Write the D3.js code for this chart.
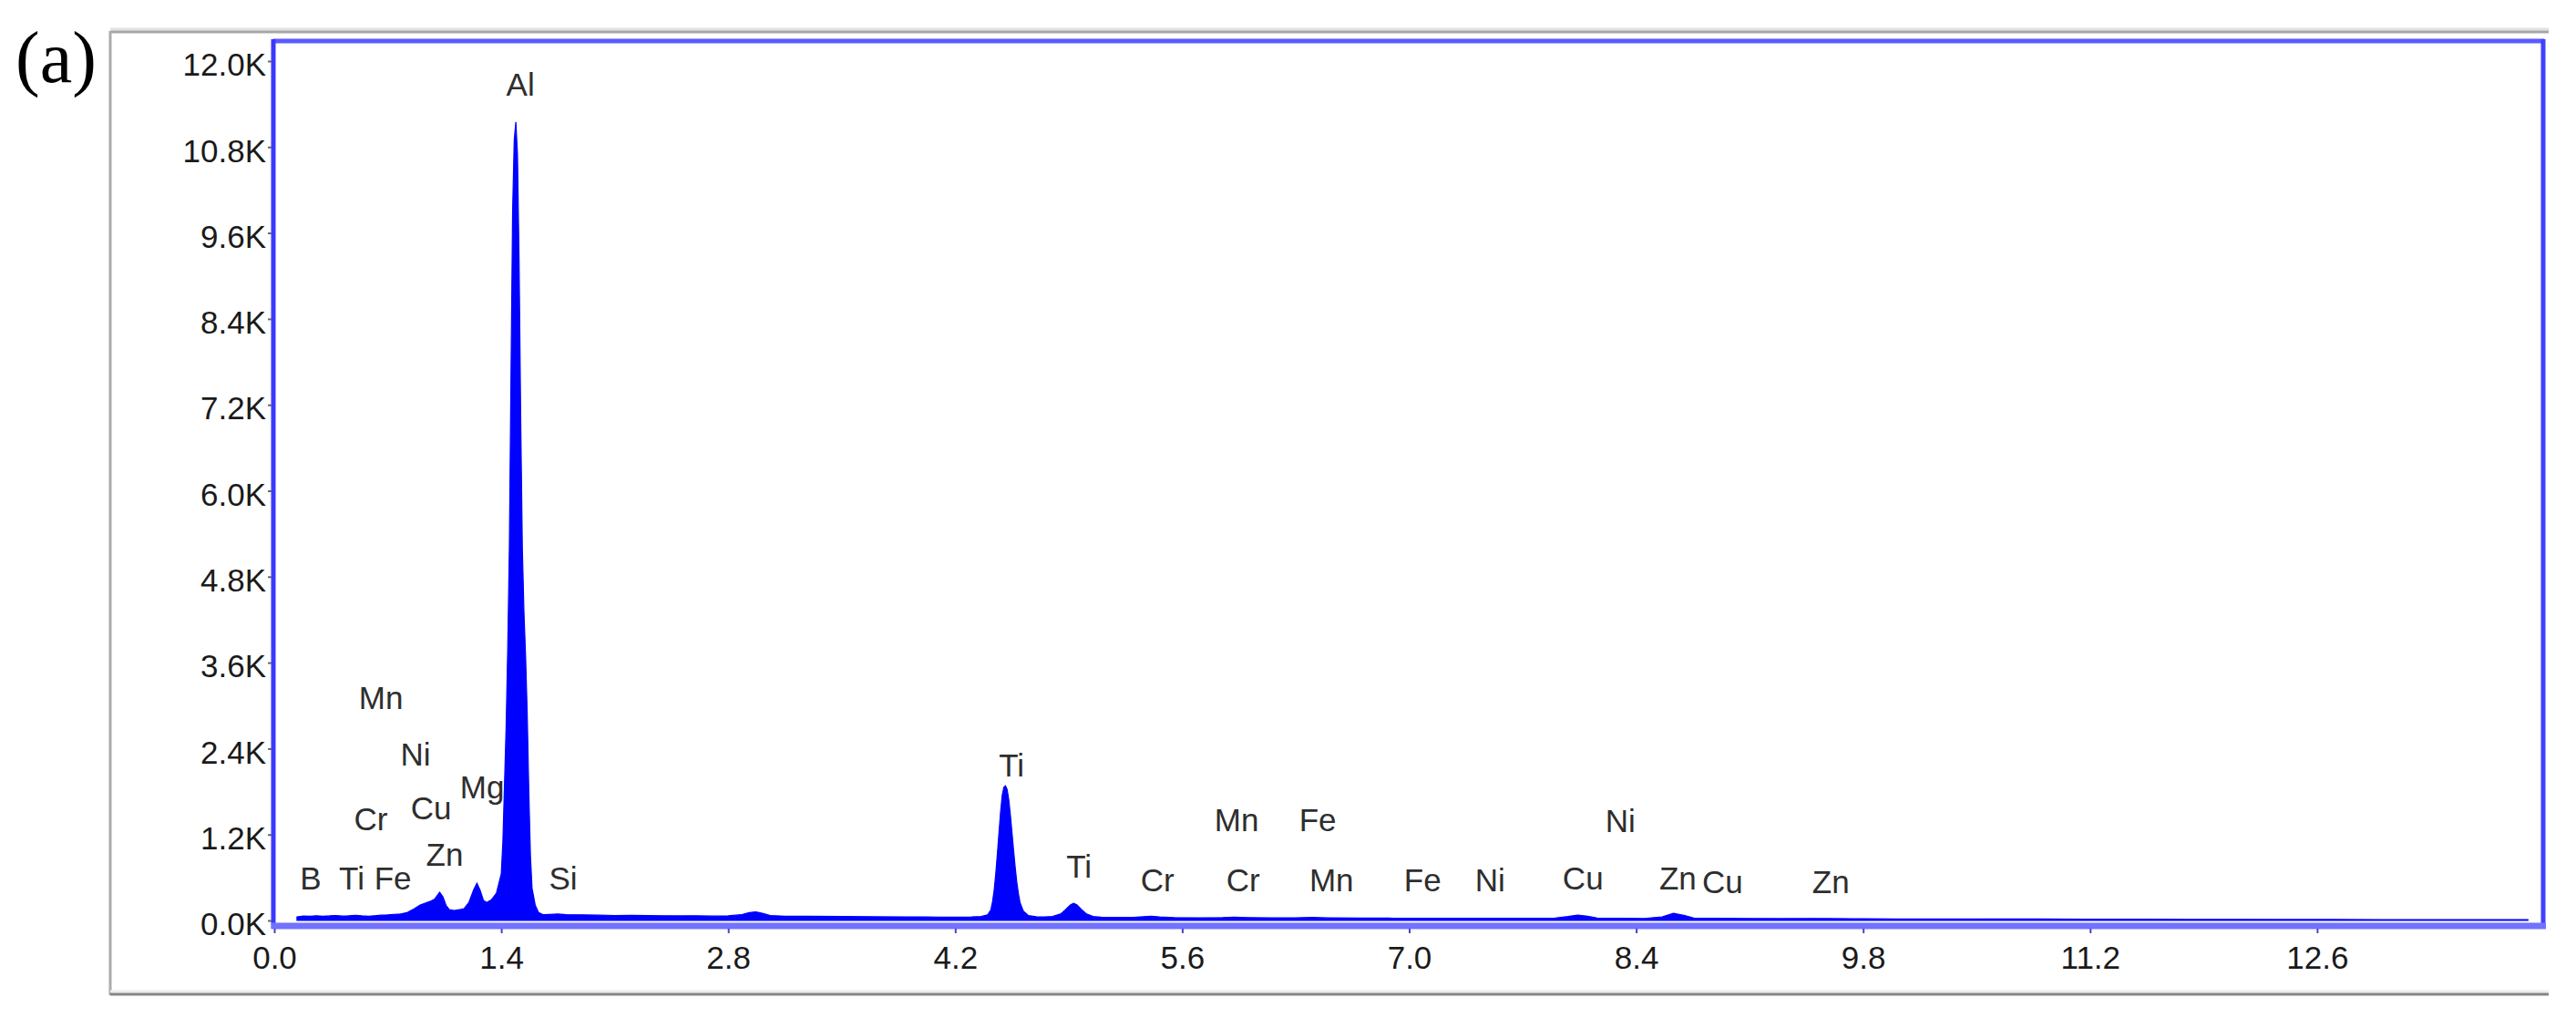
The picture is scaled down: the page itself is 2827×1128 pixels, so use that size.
<!DOCTYPE html>
<html>
<head>
<meta charset="utf-8">
<script src="https://d3js.org/d3.v7.min.js"></script>
<style>
  html, body { margin: 0; padding: 0; background: #fff; }
  svg { display: block; }
</style>
</head>
<body>
<svg id="chart" width="2827" height="1128"></svg>
<script>
// ---------------- data ----------------
// EDS spectrum: energy (keV) and counts
const energyKeV = [
  0.14, 0.18, 0.22, 0.26, 0.30, 0.34, 0.38, 0.42, 0.46, 0.50, 0.54, 0.58, 0.62, 0.66, 0.70, 0.74, 0.78, 0.82, 0.86, 0.90,
  0.93, 0.96, 0.99, 1.02, 1.04, 1.06, 1.08, 1.11, 1.14, 1.17, 1.20, 1.23, 1.25, 1.27, 1.29, 1.31, 1.34, 1.37, 1.39,
  1.40, 1.41, 1.42, 1.43, 1.44, 1.45, 1.46, 1.47, 1.48, 1.49, 1.50, 1.51, 1.52, 1.53, 1.54, 1.55, 1.56, 1.57, 1.58, 1.59,
  1.61, 1.63, 1.66, 1.70, 1.75, 1.80, 1.90, 2.00, 2.10, 2.20, 2.30, 2.40, 2.50, 2.60, 2.70, 2.80, 2.88, 2.93, 2.97, 3.01,
  3.06, 3.15, 3.30, 3.50, 3.70, 3.90, 4.10, 4.30, 4.36, 4.40, 4.42, 4.43, 4.44, 4.45, 4.46, 4.47, 4.48, 4.49, 4.50, 4.51,
  4.52, 4.53, 4.54, 4.55, 4.56, 4.57, 4.58, 4.59, 4.60, 4.62, 4.65, 4.70, 4.75, 4.80, 4.85, 4.88, 4.91, 4.93, 4.95, 4.98,
  5.01, 5.05, 5.10, 5.20, 5.30, 5.36, 5.41, 5.46, 5.55, 5.70, 5.85, 5.92, 6.00, 6.15, 6.30, 6.40, 6.50, 6.70, 6.90, 7.10,
  7.30, 7.50, 7.70, 7.90, 7.98, 8.04, 8.10, 8.16, 8.30, 8.45, 8.56, 8.63, 8.70, 8.76, 8.90, 9.10, 9.30, 9.50, 9.60, 9.80,
  10.0, 10.3, 10.6, 10.9, 11.2, 11.5, 11.8, 12.1, 12.4, 12.7, 13.0, 13.3, 13.6, 13.9
];
const counts = [
  50, 62, 58, 66, 60, 64, 70, 62, 66, 72, 64, 60, 66, 74, 78, 84, 92, 110, 160, 215,
  240, 265, 300, 395, 330, 210, 150, 140, 150, 165, 250, 430, 520, 420, 280, 250, 290, 380, 560,
  650, 1100, 1900, 2700, 3800, 5200, 7600, 9900, 10900, 11150, 10700, 9200, 7000, 5200, 4300, 3700, 2900, 1800, 900, 450,
  210, 110, 80, 85, 90, 82, 78, 74, 70, 72, 68, 66, 64, 66, 62, 64, 80, 110, 120, 100,
  70, 60, 58, 55, 52, 50, 48, 50, 55, 80, 150, 260, 420, 650, 930, 1230, 1520, 1750, 1860, 1880,
  1830, 1690, 1480, 1230, 980, 740, 530, 370, 250, 130, 70, 52, 50, 55, 90, 150, 215, 240, 220, 150,
  90, 55, 45, 42, 44, 52, 60, 50, 40, 38, 40, 46, 40, 36, 38, 42, 36, 34, 32, 32,
  30, 32, 30, 34, 55, 75, 60, 34, 30, 28, 50, 100, 70, 32, 30, 28, 26, 28, 26, 24,
  22, 22, 20, 20, 18, 18, 16, 16, 14, 14, 12, 12, 10, 10
];

// element annotations: name, energy position (keV), height (counts at label baseline)
const labelNames  = ["B", "Ti", "Fe", "Cr", "Mn", "Ni", "Cu", "Zn", "Mg", "Al", "Si",
                     "Ti", "Ti", "Cr", "Mn", "Cr", "Fe", "Mn", "Fe", "Ni", "Cu", "Ni", "Zn", "Cu", "Zn"];
const labelKeV    = [0.225, 0.478, 0.731, 0.596, 0.658, 0.871, 0.967, 1.051, 1.282, 1.518, 1.782,
                     4.548, 4.963, 5.447, 5.936, 5.975, 6.436, 6.521, 7.083, 7.499, 8.072, 8.302, 8.657, 8.932, 9.601];
const labelCounts = [432, 432, 432, 1257, 2946, 2159, 1410, 762, 1702, 11517, 432,
                     2006, 597, 406, 1244, 406, 1244, 406, 406, 406, 432, 1232, 432, 381, 381];

const xTicks = [0.0, 1.4, 2.8, 4.2, 5.6, 7.0, 8.4, 9.8, 11.2, 12.6];
const yTicks = [0, 1200, 2400, 3600, 4800, 6000, 7200, 8400, 9600, 10800, 12000];
const panelLabel = "(a)";

// ---------------- drawing ----------------
const svg = d3.select("#chart");
const FONT = "'Liberation Sans', Arial, sans-serif";

const x = d3.scaleLinear().domain([0, 14]).range([301, 2792]);
const y = d3.scaleLinear().domain([0, 12000]).range([1010, 67]);

// outer gray frame
const frame = svg.append("g");
frame.append("line").attr("x1", 121).attr("x2", 2797).attr("y1", 32).attr("y2", 32)
  .attr("stroke", "#e2e2e2").attr("stroke-width", 3);
frame.append("line").attr("x1", 121).attr("x2", 2797).attr("y1", 35).attr("y2", 35)
  .attr("stroke", "#a6a6a6").attr("stroke-width", 3);
frame.append("line").attr("x1", 121).attr("x2", 121).attr("y1", 34).attr("y2", 1092)
  .attr("stroke", "#ababab").attr("stroke-width", 3);
frame.append("line").attr("x1", 121).attr("x2", 2797).attr("y1", 1088).attr("y2", 1088)
  .attr("stroke", "#ececec").attr("stroke-width", 3);
frame.append("line").attr("x1", 121).attr("x2", 2797).attr("y1", 1091).attr("y2", 1091)
  .attr("stroke", "#858585").attr("stroke-width", 3);

// panel label
svg.append("text").attr("x", 17).attr("y", 90)
  .attr("font-family", "'Liberation Serif', 'Times New Roman', serif")
  .attr("font-size", 80).attr("fill", "#000").text(panelLabel);

// spectrum
const pts = energyKeV.map((e, i) => [e, counts[i]]);
const area = d3.area().x(d => x(d[0])).y0(y(0)).y1(d => y(d[1])).curve(d3.curveLinear);
svg.append("path").datum(pts).attr("d", area)
  .attr("fill", "#0000ff").attr("stroke", "#0000ff").attr("stroke-width", 1.2);

// plot frame (blue)
svg.append("line").attr("x1", 300).attr("x2", 2792).attr("y1", 45).attr("y2", 45)
  .attr("stroke", "#5a5aff").attr("stroke-width", 5);
svg.append("line").attr("x1", 300).attr("x2", 300).attr("y1", 43).attr("y2", 1019)
  .attr("stroke", "#3a3aff").attr("stroke-width", 5);
svg.append("line").attr("x1", 2791).attr("x2", 2791).attr("y1", 43).attr("y2", 1019)
  .attr("stroke", "#4040ff").attr("stroke-width", 5);
svg.append("line").attr("x1", 298).attr("x2", 2794).attr("y1", 1016).attr("y2", 1016)
  .attr("stroke", "#7272ff").attr("stroke-width", 7);

// y axis
const yAxis = svg.append("g").attr("transform", "translate(298,0)")
  .call(d3.axisLeft(y).tickValues(yTicks).tickSize(4).tickPadding(2)
    .tickFormat(d => (d / 1000).toFixed(1) + "K"));
yAxis.select(".domain").remove();
yAxis.selectAll(".tick line").attr("stroke", "#666").attr("stroke-width", 2);
yAxis.selectAll(".tick text").attr("font-family", FONT).attr("font-size", 35)
  .attr("fill", "#1a1a1a").attr("dy", "0.45em");

// x axis
const xAxis = svg.append("g").attr("transform", "translate(0,1019)")
  .call(d3.axisBottom(x).tickValues(xTicks).tickSize(5).tickPadding(14)
    .tickFormat(d => d.toFixed(1)));
xAxis.select(".domain").remove();
xAxis.selectAll(".tick line").attr("stroke", "#4444cc").attr("stroke-width", 2);
xAxis.selectAll(".tick text").attr("font-family", FONT).attr("font-size", 35)
  .attr("fill", "#1a1a1a");

// element labels
svg.append("g").selectAll("text").data(labelNames).join("text")
  .attr("x", (d, i) => x(labelKeV[i]))
  .attr("y", (d, i) => y(labelCounts[i]))
  .attr("text-anchor", "middle")
  .attr("font-family", FONT).attr("font-size", 35)
  .attr("fill", "#2e2e2e")
  .text(d => d);
</script>
</body>
</html>
